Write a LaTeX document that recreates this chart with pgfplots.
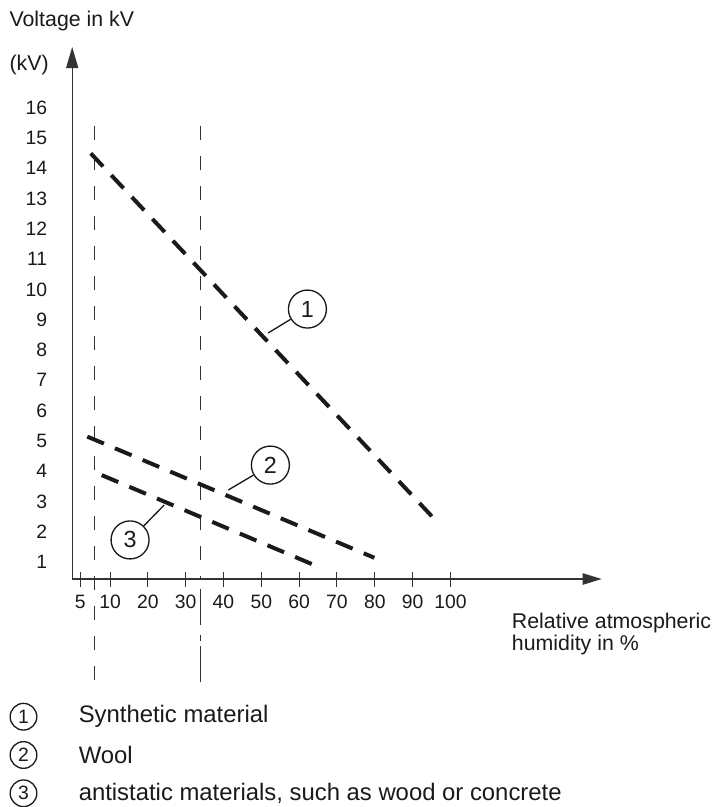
\documentclass[border=0pt]{standalone}
\usepackage{fontspec}
\setmainfont{Liberation Sans}
\usepackage{pgfplots}
\pgfplotsset{compat=1.18}
\usetikzlibrary{arrows.meta}
\definecolor{ink}{HTML}{1A1A1A}
\definecolor{axisgray}{HTML}{333333}
\begin{document}
\begin{tikzpicture}[x=0.75pt,y=0.75pt]
\path[use as bounding box] (0,0) rectangle (717,-807);
\begin{axis}[
  at={(54.15pt,-434.25pt)}, anchor=south west,
  scale only axis, width=397.1pt, height=399pt,
  xmin=0, xmax=140, ymin=0.44, ymax=18,
  axis lines=left,
  axis line style={line width=1pt, color=axisgray},
  x axis line style={-{Triangle[length=14.25pt,width=8.5pt]}},
  y axis line style={-{Triangle[length=15.75pt,width=9pt]}},
  xtick={2.1,10,20,30,40,50,60,70,80,90,100},
  xticklabels={5,10,20,30,40,50,60,70,80,90,100},
  ytick={1,2,3,4,5,6,7,8,9,10,11,12,13,14,15,16},
  yticklabels={1,2,3,4,5,6,7,8,9,10,11,12,13,14,15,16},
  tick align=center,
  major tick length=11.25pt,
  xtick style={line width=0.75pt, color=axisgray},
  ytick style={draw=none},
  tick label style={font=\fontsize{14.5}{16}\selectfont, inner sep=0pt, text=ink},
  xticklabel style={anchor=north, yshift=-6pt},
  yticklabel style={anchor=east, xshift=-12.9pt},
  clip=false,
]
% vertical reference lines
\addplot[line width=0.75pt, color=axisgray, dash pattern=on 10.5pt off 12pt] coordinates {(5.85,15.4) (5.85,-3.2)};
\addplot[line width=0.75pt, color=axisgray, dash pattern=on 10.5pt off 12pt] coordinates {(34.0,15.4) (34.0,0.44)};
\addplot[line width=0.75pt, color=axisgray, dash pattern=on 27pt off 7.5pt on 5pt off 3.75pt] coordinates {(34.0,0.12) (34.0,-3.2)};
% data lines
\addplot[line width=3pt, color=ink, dash pattern=on 13.5pt off 9pt] coordinates {(4.9,14.49) (96.0,2.39)};
\addplot[line width=3pt, color=ink, dash pattern=on 13.5pt off 9pt] coordinates {(4.0,5.14) (79.9,1.14)};
\addplot[line width=3pt, color=ink, dash pattern=on 13.5pt off 9pt] coordinates {(7.8,3.87) (64.0,0.90)};
% callouts
\node[circle, draw=ink, line width=1pt, minimum size=28.5pt, inner sep=0pt, font=\fontsize{17.5}{17.5}\selectfont, text=ink] (c1) at (axis cs:62.2,9.35) {1};
\node[circle, draw=ink, line width=1pt, minimum size=28.5pt, inner sep=0pt, font=\fontsize{17.5}{17.5}\selectfont, text=ink] (c2) at (axis cs:52.4,4.20) {2};
\node[circle, draw=ink, line width=1pt, minimum size=28.5pt, inner sep=0pt, font=\fontsize{17.5}{17.5}\selectfont, text=ink] (c3) at (axis cs:15.3,1.73) {3};
\draw[line width=1pt, color=ink] (axis cs:51.8,8.56) -- (c1);
\draw[line width=1pt, color=ink] (axis cs:41.3,3.38) -- (c2);
\draw[line width=1pt, color=ink] (axis cs:24.3,2.88) -- (c3);
\end{axis}
% axis titles
\node[anchor=base west, inner sep=0pt, font=\fontsize{16}{18}\selectfont, text=ink] at (9.3,-26.7) {Voltage in kV};
\node[anchor=base west, inner sep=0pt, font=\fontsize{16}{18}\selectfont, text=ink] at (9.3,-70.5) {(kV)};
\node[anchor=base west, inner sep=0pt, font=\fontsize{16}{18}\selectfont, text=ink] at (511.7,-628.3) {Relative atmospheric};
\node[anchor=base west, inner sep=0pt, font=\fontsize{16}{18}\selectfont, text=ink] at (511.7,-650.7) {humidity in \%};
% key
\foreach \n/\t/\yy in {1/Synthetic material/716.7, 2/Wool/755, 3/{antistatic materials, such as wood or concrete}/793.3}{
  \node[circle, draw=ink, line width=1pt, minimum size=20pt, inner sep=0pt, font=\fontsize{14.5}{14.5}\selectfont, text=ink] at (23.5,-\yy) {\n};
  \node[anchor=west, inner sep=0pt, font=\fontsize{17.9}{20}\selectfont, text=ink] at (78.5,-\yy) {\t};
}
\end{tikzpicture}
\end{document}
